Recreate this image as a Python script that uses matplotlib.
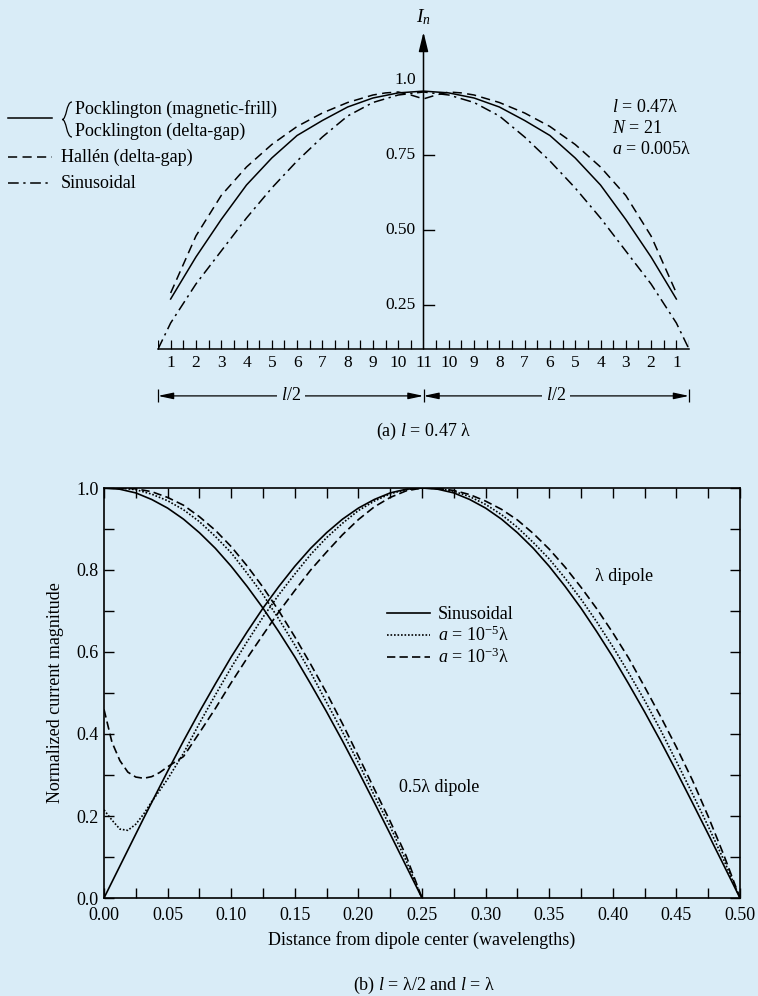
import numpy as np
import matplotlib
matplotlib.use("Agg")
from matplotlib import pyplot as plt
from matplotlib.lines import Line2D
from matplotlib.path import Path
from matplotlib.patches import PathPatch

plt.rcParams['font.family'] = ['Liberation Serif', 'DejaVu Serif']
plt.rcParams['mathtext.fontset'] = 'custom'
plt.rcParams['mathtext.rm'] = 'Liberation Serif'
plt.rcParams['mathtext.it'] = 'Liberation Serif:italic'
plt.rcParams['font.size'] = 13

BG = '#d9ecf7'
W, H = 758, 996

# ---- (a) l = 0.47 lambda, N = 21 segments (x in segment units from centre) ----
seg_pos = list(range(-10, 11))
seg_labels = [str(i) for i in range(1, 12)] + [str(i) for i in range(10, 0, -1)]
pock = [0.27, 0.41, 0.535, 0.65, 0.74, 0.815, 0.865, 0.91, 0.94, 0.957, 0.963,
        0.957, 0.94, 0.91, 0.865, 0.815, 0.74, 0.65, 0.535, 0.41, 0.27]
hallen_pos = [-10, -9, -8, -7, -6, -5, -4, -3, -2, -1.5, -1, -0.5, 0,
              0.5, 1, 1.5, 2, 3, 4, 5, 6, 7, 8, 9, 10]
hallen = [0.29, 0.48, 0.615, 0.71, 0.785, 0.845, 0.89, 0.925, 0.95, 0.957, 0.96, 0.95, 0.937,
          0.95, 0.96, 0.957, 0.95, 0.925, 0.89, 0.845, 0.785, 0.71, 0.615, 0.48, 0.29]
sin_pos = [-10.5] + seg_pos + [10.5]
sin_a = [0.103, 0.19, 0.32, 0.43, 0.54, 0.64, 0.73, 0.81, 0.88, 0.925, 0.95, 0.96,
         0.95, 0.925, 0.88, 0.81, 0.73, 0.64, 0.54, 0.43, 0.32, 0.19, 0.103]
a_ticks = [0.25, 0.5, 0.75]
a_ticklabels = ['0.25', '0.50', '0.75', '1.0']
Y_FLOOR = 0.103

# ---- (b) l = lambda/2 and l = lambda ----
z_half = np.linspace(0, 0.25, 21)
sin_half = [1.0, 0.997, 0.988, 0.972, 0.951, 0.924, 0.891, 0.853, 0.809, 0.760, 0.707,
            0.649, 0.588, 0.522, 0.454, 0.383, 0.309, 0.233, 0.156, 0.078, 0.0]
dot_half = [1.0, 1.0, 0.996, 0.985, 0.969, 0.947, 0.918, 0.882, 0.842, 0.792, 0.74,
            0.68, 0.617, 0.55, 0.477, 0.405, 0.33, 0.25, 0.174, 0.091, 0.0]
dash_half = [1.0, 1.0, 0.998, 0.991, 0.977, 0.958, 0.93, 0.897, 0.857, 0.81, 0.758,
             0.70, 0.637, 0.57, 0.50, 0.425, 0.346, 0.266, 0.187, 0.103, 0.0]

z_full = [0.0, 0.00625, 0.0125, 0.01875, 0.025, 0.03125, 0.0375, 0.04375, 0.05,
          0.0625, 0.075, 0.0875, 0.1, 0.1125, 0.125, 0.1375, 0.15, 0.1625, 0.175,
          0.1875, 0.2, 0.2125, 0.225, 0.2375, 0.25, 0.2625, 0.275, 0.2875, 0.3,
          0.3125, 0.325, 0.3375, 0.35, 0.3625, 0.375, 0.3875, 0.4, 0.4125, 0.425,
          0.4375, 0.45, 0.4625, 0.475, 0.4875, 0.5]
sin_full = [0.0, 0.039, 0.078, 0.117, 0.156, 0.195, 0.233, 0.271, 0.309,
            0.383, 0.454, 0.522, 0.588, 0.649, 0.707, 0.760, 0.809, 0.853, 0.891,
            0.924, 0.951, 0.972, 0.988, 0.997, 1.0, 0.997, 0.988, 0.972, 0.951,
            0.924, 0.891, 0.853, 0.809, 0.760, 0.707, 0.649, 0.588, 0.522, 0.454,
            0.383, 0.309, 0.233, 0.156, 0.078, 0.0]
dot_full = [0.215, 0.19, 0.168, 0.165, 0.18, 0.205, 0.235, 0.262, 0.29,
            0.353, 0.426, 0.495, 0.562, 0.625, 0.685, 0.740, 0.790, 0.838, 0.879,
            0.914, 0.945, 0.968, 0.986, 0.996, 1.0, 0.999, 0.992, 0.979, 0.960,
            0.935, 0.904, 0.867, 0.827, 0.780, 0.729, 0.673, 0.613, 0.549, 0.482,
            0.41, 0.333, 0.255, 0.175, 0.091, 0.0]
dash_full = [0.46, 0.38, 0.335, 0.307, 0.295, 0.292, 0.296, 0.306, 0.32,
             0.345, 0.403, 0.462, 0.525, 0.585, 0.642, 0.698, 0.750, 0.800, 0.844,
             0.886, 0.923, 0.954, 0.977, 0.993, 1.0, 0.999, 0.994, 0.984, 0.968,
             0.948, 0.922, 0.889, 0.851, 0.807, 0.758, 0.705, 0.647, 0.585, 0.515,
             0.443, 0.368, 0.288, 0.199, 0.103, 0.0]

DASH_A = (0, (6, 3.5))
DASHDOT_A = (0, (7, 3, 1.5, 3))
DOT_B = (0, (1, 1.1))
DASH_B = (0, (5, 2.5))


def fx(px):
    return px / W


def fy(py):
    return 1 - py / H


fig = plt.figure(figsize=(W / 100, H / 100), dpi=100, facecolor=BG)

# ================= (a) =================
ax1 = fig.add_axes([fx(158), fy(350), 531 / W, 345 / H])
ax1.set_xlim(-10.5, 10.5)
ax1.set_ylim(0.1, 1.25)
ax1.axis('off')

ax1.plot(seg_pos, pock, color='k', lw=1.1)
ax1.plot(hallen_pos, hallen, color='k', lw=1.1, linestyle=DASH_A)
ax1.plot(sin_pos, sin_a, color='k', lw=1.1, linestyle=DASHDOT_A)

# baseline with segment ticks
ax1.plot([-10.5, 10.5], [Y_FLOOR, Y_FLOOR], color='k', lw=1.1, clip_on=False)
tick_s = [t for t in np.arange(-10.5, 10.51, 0.5) if t != 0]
ax1.vlines(tick_s, Y_FLOOR, Y_FLOOR + 0.03, color='k', lw=0.9)
for s, lab in zip(seg_pos, seg_labels):
    ax1.text(s, Y_FLOOR - 0.047, lab, ha='center', va='center', fontsize=12.5)

# vertical I_n axis
ax1.annotate('', xy=(0, 1.16), xytext=(0, Y_FLOOR),
             arrowprops=dict(arrowstyle='-|>,head_length=0.9,head_width=0.22',
                             color='k', lw=1.1, shrinkA=0, shrinkB=0))
ax1.text(0, 1.21, '$I_n$', ha='center', va='center', fontsize=14)
for v in a_ticks:
    ax1.plot([0, 0.4], [v, v], color='k', lw=1.0)
for v, lab in zip(a_ticks + [1.0], a_ticklabels):
    ax1.text(-0.3, v, lab, ha='right', va='center', fontsize=12.5)

# l/2 dimension arrows
ydim = -0.053
for x0, x1 in [(-10.5, 0), (0, 10.5)]:
    xm = (x0 + x1) / 2
    for xe in (x0, x1):
        ax1.annotate('', xy=(xe, ydim), xytext=(xm, ydim), annotation_clip=False,
                     arrowprops=dict(arrowstyle='-|>,head_length=0.7,head_width=0.15',
                                     color='k', lw=0.9, shrinkA=0, shrinkB=0))
    ax1.text(xm, ydim, '$l$/2', ha='center', va='center', fontsize=13,
             bbox=dict(facecolor=BG, edgecolor='none', pad=3))
ax1.vlines([-10.5, 0, 10.5], ydim - 0.022, ydim + 0.022, color='k', lw=0.9, clip_on=False)
ax1.text(0, -0.173, '(a) $l$ = 0.47 λ', ha='center', va='center', fontsize=13)

# parameters
fig.text(fx(612), fy(107), '$l$ = 0.47λ', ha='left', va='center', fontsize=13)
fig.text(fx(612), fy(128), '$N$ = 21', ha='left', va='center', fontsize=13)
fig.text(fx(612), fy(150), '$a$ = 0.005λ', ha='left', va='center', fontsize=13)

# legend for (a)
for py, ls in [(118, '-'), (157, DASH_A), (183, DASHDOT_A)]:
    fig.add_artist(Line2D([fx(8), fx(52)], [fy(py), fy(py)], color='k', lw=1.1,
                          linestyle=ls, transform=fig.transFigure))
brace = Path([(fx(72), fy(102)), (fx(66), fy(102)), (fx(67), fy(119.5)), (fx(62), fy(119.5)),
              (fx(67), fy(119.5)), (fx(66), fy(137)), (fx(72), fy(137))],
             [Path.MOVETO, Path.CURVE4, Path.CURVE4, Path.CURVE4,
              Path.CURVE4, Path.CURVE4, Path.CURVE4])
fig.add_artist(PathPatch(brace, facecolor='none', edgecolor='k', lw=0.9,
                         transform=fig.transFigure))
fig.text(fx(75), fy(109), 'Pocklington (magnetic-frill)', va='center', fontsize=13)
fig.text(fx(75), fy(131), 'Pocklington (delta-gap)', va='center', fontsize=13)
fig.text(fx(61), fy(157), 'Hallén (delta-gap)', va='center', fontsize=13)
fig.text(fx(61), fy(183), 'Sinusoidal', va='center', fontsize=13)

# ================= (b) =================
ax2 = fig.add_axes([fx(104), fy(898), 636 / W, 410 / H])
ax2.set_facecolor(BG)
ax2.set_xlim(0, 0.5)
ax2.set_ylim(0, 1.0)

h1, = ax2.plot(z_half, sin_half, color='k', lw=1.2)
h2, = ax2.plot(z_half, dot_half, color='k', lw=1.2, linestyle=DOT_B)
h3, = ax2.plot(z_half, dash_half, color='k', lw=1.2, linestyle=DASH_B)
ax2.plot(z_full, sin_full, color='k', lw=1.2)
ax2.plot(z_full, dot_full, color='k', lw=1.2, linestyle=DOT_B)
ax2.plot(z_full, dash_full, color='k', lw=1.2, linestyle=DASH_B)

ax2.set_xticks(np.arange(0, 0.501, 0.05))
ax2.set_xticklabels([f'{v:.2f}' for v in np.arange(0, 0.501, 0.05)])
ax2.set_xticks(np.arange(0.025, 0.5, 0.05), minor=True)
ax2.set_yticks(np.arange(0, 1.01, 0.2))
ax2.set_yticklabels([f'{v:.1f}' for v in np.arange(0, 1.01, 0.2)])
ax2.set_yticks(np.arange(0.1, 1.0, 0.2), minor=True)
ax2.tick_params(which='both', direction='in', top=True, right=True,
                length=7, width=1, labelsize=13, pad=4)
ax2.tick_params(axis='x', pad=6.5)
for sp in ax2.spines.values():
    sp.set_linewidth(1.2)

ax2.set_xlabel('Distance from dipole center (wavelengths)', fontsize=13)
ax2.xaxis.set_label_coords(0.5, -0.08)
ax2.set_ylabel('Normalized current magnitude', fontsize=13)
ax2.yaxis.set_label_coords(-0.063, 0.5)

ax2.text(0.386, 0.785, 'λ dipole', va='center', fontsize=13)
ax2.text(0.232, 0.27, '0.5λ dipole', va='center', fontsize=13)

ax2.legend([h1, h2, h3], ['Sinusoidal', '$a$ = 10$^{-5}$λ', '$a$ = 10$^{-3}$λ'],
           loc='upper left', bbox_to_anchor=(0.445, 0.712), frameon=False,
           handlelength=2.4, handletextpad=0.4, labelspacing=0.15,
           borderpad=0, borderaxespad=0, fontsize=13)

fig.text(fx(424), fy(985), '(b) $l$ = λ/2 and $l$ = λ', ha='center', va='center', fontsize=13)

fig.savefig('out.png', dpi=100, facecolor=BG)
